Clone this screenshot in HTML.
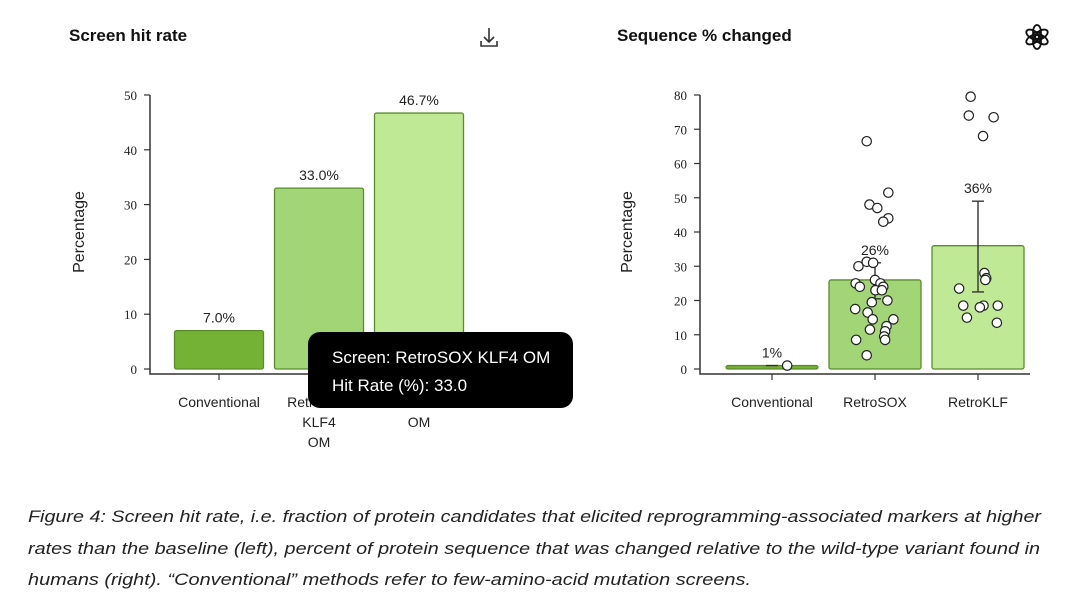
<!DOCTYPE html>
<html><head><meta charset="utf-8"><style>
html,body{margin:0;padding:0;background:#fff;}
svg{display:block;}
.tk{font-family:"Liberation Serif",serif;font-size:13px;fill:#222;}
.lb{font-family:"Liberation Sans",sans-serif;font-size:14px;fill:#222;}
.ttl{font-family:"Liberation Sans",sans-serif;font-size:17px;font-weight:bold;fill:#111;}
.cap{font-family:"Liberation Sans",sans-serif;font-size:17px;font-style:italic;fill:#222;}
</style></head><body>
<svg id="root" width="1080" height="603" viewBox="0 0 1080 603">
<text class="ttl" x="69" y="41">Screen hit rate</text>
<text class="ttl" x="617" y="41">Sequence % changed</text>
<g stroke="#333" stroke-width="1.6" fill="none">
<path d="M489 28 V42 M484 37 L489 42 L494 37 M481 41 V46 H497 V41"/>
</g>
<g fill="none" stroke="#111" stroke-width="1.8">
<circle cx="1037" cy="37" r="5"/>
<ellipse cx="1037" cy="32" rx="4" ry="7" transform="rotate(0 1037 37)"/>
<ellipse cx="1037" cy="32" rx="4" ry="7" transform="rotate(60 1037 37)"/>
<ellipse cx="1037" cy="32" rx="4" ry="7" transform="rotate(120 1037 37)"/>
<ellipse cx="1037" cy="32" rx="4" ry="7" transform="rotate(180 1037 37)"/>
<ellipse cx="1037" cy="32" rx="4" ry="7" transform="rotate(240 1037 37)"/>
<ellipse cx="1037" cy="32" rx="4" ry="7" transform="rotate(300 1037 37)"/>
</g>
<g id="left"></g>
<g id="right"></g>
<g>
<rect x="308" y="332" width="265" height="76" rx="12" fill="#000"/>
<text x="332" y="363" fill="#fff" font-family="Liberation Sans,sans-serif" font-size="17">Screen: RetroSOX KLF4 OM</text>
<text x="332" y="391" fill="#fff" font-family="Liberation Sans,sans-serif" font-size="17">Hit Rate (%): 33.0</text>
</g>
<g>
<text class="cap" x="28" y="522" textLength="1013" lengthAdjust="spacingAndGlyphs">Figure 4: Screen hit rate, i.e. fraction of protein candidates that elicited reprogramming-associated markers at higher</text>
<text class="cap" x="28" y="554" textLength="1012" lengthAdjust="spacingAndGlyphs">rates than the baseline (left), percent of protein sequence that was changed relative to the wild-type variant found in</text>
<text class="cap" x="28" y="585" textLength="723" lengthAdjust="spacingAndGlyphs">humans (right). “Conventional” methods refer to few-amino-acid mutation screens.</text>
</g>
</svg>
<script>
// Left chart data
const hitCategories = [["Conventional"],["RetroSOX","KLF4","OM"],["RetroKLF","OM"]];
const hitValues = [7.0, 33.0, 46.7];
const hitTicks = [0,10,20,30,40,50];
// Right chart data
const seqCategories = ["Conventional","RetroSOX","RetroKLF"];
const seqMeans = [1, 26, 36];
const seqErrLow = [1, 20.5, 22.5];
const seqErrHigh = [1, 31, 49];
const seqTicks = [0,10,20,30,40,50,60,70,80];
const convPoints = [1];
const convJitter = [0.33];
const soxPoints = [66.5,48,47,51.5,44,43,30,31.3,31,25,24,26,25,24,23,23,19.5,20,17.5,16.5,14.5,14.5,12.5,11,11.5,9.5,8.5,8.5,4];
const soxJitter = [-0.18,-0.12,0.05,0.29,0.29,0.18,-0.36,-0.18,-0.04,-0.42,-0.33,0,0.12,0.18,0.01,0.15,-0.07,0.27,-0.43,-0.16,-0.05,0.40,0.25,0.22,-0.11,0.20,0.22,-0.41,-0.18];
const klfPoints = [79.5,74,73.5,68,28,26.5,26,23.5,18.5,18.5,18,18.5,15,13.5];
const klfJitter = [-0.16,-0.20,0.34,0.11,0.14,0.18,0.16,-0.41,-0.32,0.12,0.04,0.43,-0.24,0.41];

const NS="http://www.w3.org/2000/svg";
function mk(tag, attrs, parent){const e=document.createElementNS(NS,tag);for(const k in attrs)e.setAttribute(k,attrs[k]);parent.appendChild(e);return e;}

const fills=["#74b235","#a2d576","#c0e996"];
const stroke="#5a8c2c";

// LEFT
(function(){
 const g=document.getElementById('left');
 const x0=150, y0=369, yTop=95, maxV=50;
 const y=v=>y0-(v/maxV)*(y0-yTop);
 const bw=89, step=100, first=219;
 const cx=i=>first+i*step;
 let ax=mk('path',{d:`M${x0} ${yTop} V374 H470`,stroke:"#333","stroke-width":1.5,fill:"none"},g);
 
 
 hitTicks.forEach(t=>{
  const l=mk('line',{x1:x0-6,x2:x0,y1:y(t),y2:y(t),stroke:"#333","stroke-width":1.2},g);
  
  
  const tx=mk('text',{class:"tk",x:x0-13,y:y(t)+5,"text-anchor":"end"},g);tx.textContent=t;
  
  
 });
 const yt=mk('text',{class:"lb",transform:"translate(84 232) rotate(-90)","text-anchor":"middle"},g);yt.textContent="Percentage";yt.style.fontSize="16px";
 
 
 hitValues.forEach((v,i)=>{
  const r=mk('rect',{x:cx(i)-bw/2,y:y(v),width:bw,height:y(0)-y(v),rx:2,fill:fills[i],stroke:stroke,"stroke-width":1.3},g);
  
  
  const t=mk('text',{class:"lb",x:cx(i),y:y(v)-8,"text-anchor":"middle"},g);t.textContent=v.toFixed(1)+"%";
  
  
  const tk=mk('line',{x1:cx(i),x2:cx(i),y1:374,y2:380,stroke:"#333","stroke-width":1.2},g);
  
  
  hitCategories[i].forEach((w,j)=>{
   const c=mk('text',{class:"lb",x:cx(i),y:407+j*20,"text-anchor":"middle"},g);c.textContent=w;
   
   
  });
 });
})();

// RIGHT
(function(){
 const g=document.getElementById('right');
 const x0=700, y0=369, yTop=95, maxV=80;
 const y=v=>y0-(v/maxV)*(y0-yTop);
 const bw=92, step=103, first=772;
 const cx=i=>first+i*step;
 const ax=mk('path',{d:`M${x0} ${yTop} V374 H1030`,stroke:"#333","stroke-width":1.5,fill:"none"},g);
 
 
 seqTicks.forEach(t=>{
  const l=mk('line',{x1:x0-6,x2:x0,y1:y(t),y2:y(t),stroke:"#333","stroke-width":1.2},g);
  
  
  const tx=mk('text',{class:"tk",x:x0-13,y:y(t)+5,"text-anchor":"end"},g);tx.textContent=t;
  
  
 });
 const yt=mk('text',{class:"lb",transform:"translate(632 232) rotate(-90)","text-anchor":"middle"},g);yt.textContent="Percentage";yt.style.fontSize="16px";
 
 
 const pts=[[convPoints,convJitter],[soxPoints,soxJitter],[klfPoints,klfJitter]];
 seqMeans.forEach((v,i)=>{
  const r=mk('rect',{x:cx(i)-bw/2,y:y(v),width:bw,height:Math.max(2,y(0)-y(v)),rx:2,fill:fills[i],stroke:stroke,"stroke-width":1.3},g);
  
  
  const e=mk('path',{d:`M${cx(i)} ${y(seqErrLow[i])} V${y(seqErrHigh[i])} M${cx(i)-6} ${y(seqErrLow[i])} H${cx(i)+6} M${cx(i)-6} ${y(seqErrHigh[i])} H${cx(i)+6}`,stroke:"#333","stroke-width":1.4,fill:"none"},g);
  
  
  const t=mk('text',{class:"lb",x:cx(i),y:Math.min(y(v),y(seqErrHigh[i]))-8,"text-anchor":"middle"},g);t.textContent=Math.round(v)+"%";
  
  
  const tk=mk('line',{x1:cx(i),x2:cx(i),y1:374,y2:380,stroke:"#333","stroke-width":1.2},g);
  
  
  const c=mk('text',{class:"lb",x:cx(i),y:407,"text-anchor":"middle"},g);c.textContent=seqCategories[i];
  
  
  const [vals,jit]=pts[i];
  vals.forEach((p,k)=>{
   const d=mk('circle',{cx:cx(i)+jit[k]*bw/2,cy:y(p),r:4.7,fill:"#fff",stroke:"#222","stroke-width":1.2},g);
   
   
  });
 });
})();
</script>
</body></html>
